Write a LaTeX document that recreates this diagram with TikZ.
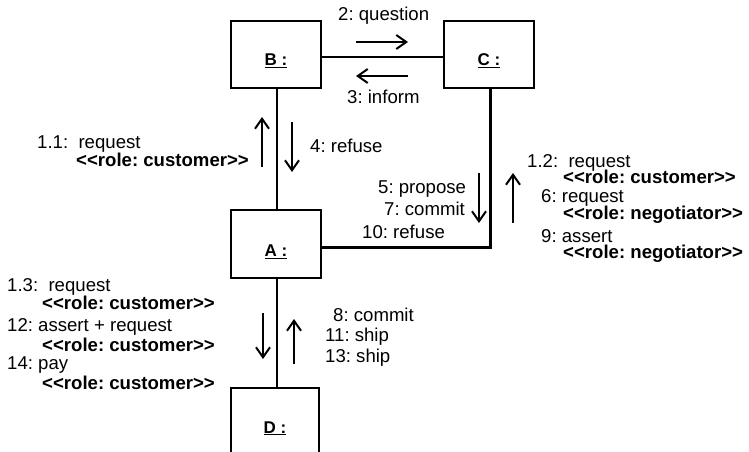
\documentclass[tikz,border=0pt]{standalone}
\usepackage{fontspec}
\setmainfont{Liberation Sans}
\usetikzlibrary{arrows.meta}
\newcommand\lguil{<\kern0pt<}
\newcommand\rguil{>\kern0pt>}
\frenchspacing
\begin{document}
\begin{tikzpicture}[x=1pt,y=-1pt,
  box/.style={draw,line width=1.2pt,minimum width=90pt,inner sep=0pt,
    font=\fontsize{17}{20}\selectfont\bfseries,text height=22pt,text depth=0pt},
  conn/.style={line width=2.6pt},
  msg/.style={line width=2pt,-{Straight Barb[length=10pt,width=14pt]}},
  lbl/.style={inner sep=0pt,anchor=base west,font=\fontsize{18.6}{21}\selectfont},
  blbl/.style={lbl,font=\fontsize{18.6}{21}\selectfont\bfseries}]
\useasboundingbox (0,0) rectangle (749,452);
% objects
\node[box,minimum height=67pt] (B) at (276,54.5) {\underline{B :}};
\node[box,minimum height=67pt] (C) at (489,54.5) {\underline{C :}};
\node[box,minimum height=68pt,text height=25pt] (A) at (276,244) {\underline{A :}};
\node[box,minimum width=88pt,minimum height=90pt,text height=10pt,text depth=10pt] (D) at (275,433) {\underline{D :}};
% links
\draw[conn] ([yshift=-2.5pt]B.east) -- ([yshift=-2.5pt]C.west);
\draw[conn] ([xshift=1pt]B.south) -- ([xshift=1pt]A.north);
\draw[conn] ([xshift=1pt]A.south) -- ([xshift=1pt]A.south |- D.north);
\draw[conn] ([yshift=-3.5pt]A.east) -| ([xshift=1.5pt]C.south);
% message arrow ends
\coordinate (q1) at (356,42);  \coordinate (q2) at (408,42);
\coordinate (i1) at (408,76);  \coordinate (i2) at (356,76);
\coordinate (r1) at (262,167); \coordinate (r2) at (262,117);
\coordinate (f1) at (292,122); \coordinate (f2) at (292,172);
\coordinate (p1) at (479,173); \coordinate (p2) at (479,223);
\coordinate (n1) at (513,223); \coordinate (n2) at (513,173);
\coordinate (c1) at (263,313); \coordinate (c2) at (263,359);
\coordinate (s1) at (294,364); \coordinate (s2) at (294,319);
\draw[msg] (q1) -- (q2);
\draw[msg] (i1) -- (i2);
\draw[msg] (r1) -- (r2);
\draw[msg] (f1) -- (f2);
\draw[msg] (p1) -- (p2);
\draw[msg] (n1) -- (n2);
\draw[msg] (c1) -- (c2);
\draw[msg] (s1) -- (s2);
% labels
\node[lbl] (tq) at (338,21) {2: question};
\node[lbl] (ti) at (347,103) {3: inform};
\node[lbl] (t11a) at (37,148) {1.1:\ \ request};
\node[blbl] (t11b) at (76,166) {\lguil role: customer\rguil};
\node[lbl] (t4) at (310,152) {4: refuse};
\node[lbl] (t5) at (378,193) {5: propose};
\node[lbl] (t7) at (384,215) {7: commit};
\node[lbl] (t10) at (362,238) {10: refuse};
\node[lbl] (t12a) at (527,167) {1.2:\ \ request};
\node[blbl] (t12b) at (563,183) {\lguil role: customer\rguil};
\node[lbl] (t6a) at (541,202) {6: request};
\node[blbl] (t6b) at (563,219) {\lguil role: negotiator\rguil};
\node[lbl] (t9a) at (541,242) {9: assert};
\node[blbl] (t9b) at (563,258) {\lguil role: negotiator\rguil};
\node[lbl] (t13a) at (7,291) {1.3:\ \ request};
\node[blbl] (t13b) at (42,309) {\lguil role: customer\rguil};
\node[lbl] (t12x) at (7,331) {12: assert + request};
\node[blbl] (t12y) at (42,351) {\lguil role: customer\rguil};
\node[lbl] (t14a) at (7,369) {14: pay};
\node[blbl] (t14b) at (42,389) {\lguil role: customer\rguil};
\node[lbl] (t8) at (333,321) {8: commit};
\node[lbl] (t11) at (325,341) {11: ship};
\node[lbl] (t13) at (325,362) {13: ship};
\end{tikzpicture}
\end{document}
